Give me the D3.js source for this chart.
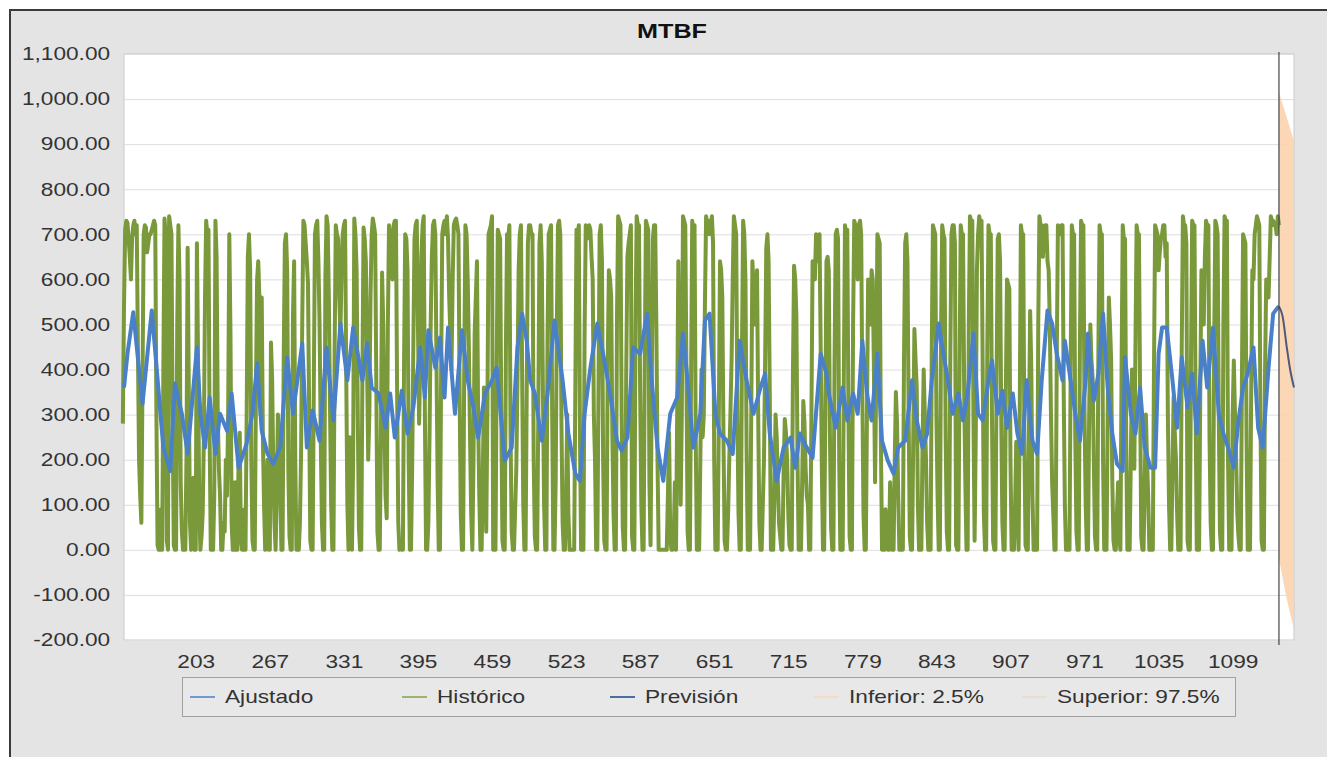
<!DOCTYPE html>
<html>
<head>
<meta charset="utf-8">
<script src="https://cdn.jsdelivr.net/npm/d3@7"></script>
<style>
  body { margin: 0; background: #fff; }
  text { font-family: "Liberation Sans", Arial, sans-serif; fill: #333; }
</style>
</head>
<body>
<div id="chart"></div>
<script>
// MTBF - historico, ajustado y prevision
var titulo = "MTBF";
var histStart = 140, histStep = 1;
var historico = [
  280,540,710,730,725,690,650,600,690,720,730,700,720,450,200,120,60,380,700,720,715,660,680,700,700,710,720,730,720,300,10,0,0,90,0,400,735,700,20,0,
  740,720,700,300,10,0,0,500,720,600,150,40,0,0,0,210,670,350,60,0,20,160,0,0,680,420,100,0,30,80,250,560,730,700,710,250,0,0,0,120,
  730,650,300,180,120,0,0,60,40,200,120,300,700,480,60,0,0,150,0,0,200,260,30,0,0,90,0,300,650,700,620,200,20,0,0,350,600,640,560,300,
  560,250,100,0,50,200,0,0,460,380,180,60,0,120,300,220,150,0,0,420,680,700,620,180,30,0,0,520,640,200,0,0,0,60,210,500,730,720,680,640,
  590,300,20,0,0,360,700,720,730,640,500,250,60,0,0,600,740,720,560,320,100,0,0,440,720,700,690,560,480,620,700,720,730,400,100,0,250,180,0,200,
  735,700,620,300,50,0,0,380,715,690,640,420,200,300,560,700,735,720,700,380,40,0,0,250,615,500,300,120,70,500,720,700,690,600,720,730,730,350,60,0,
  20,0,0,420,700,690,620,200,0,0,180,450,690,720,730,500,280,420,650,720,740,300,0,0,60,250,500,650,720,730,700,420,150,0,0,380,700,720,730,700,
  740,690,560,480,400,600,720,730,735,720,700,350,80,0,0,400,720,700,600,450,250,80,0,200,480,560,640,300,120,0,0,150,360,200,40,300,700,710,720,740,
  0,0,0,380,710,700,690,300,20,0,0,450,700,690,720,260,40,0,0,90,180,380,620,700,720,400,100,0,0,350,680,720,720,700,700,200,30,0,0,300,
  680,720,640,350,100,0,0,480,700,710,720,300,0,0,150,500,720,730,700,280,60,0,0,120,300,80,0,0,0,0,0,360,710,700,720,250,0,0,0,480,
  720,690,700,720,710,650,600,300,200,0,0,350,700,720,640,200,20,0,0,420,620,600,560,250,80,0,0,520,740,730,720,300,50,0,0,400,650,680,700,720,
  30,0,0,500,740,720,720,350,100,0,0,430,730,720,710,150,10,350,690,720,720,500,200,0,0,0,0,0,0,0,0,120,260,30,0,0,20,150,0,300,
  640,400,100,300,740,730,720,400,40,0,0,380,730,700,720,260,0,0,0,200,400,250,300,550,740,720,730,700,720,740,680,200,0,0,0,300,640,620,560,250,
  20,0,0,80,200,300,420,600,740,720,700,300,80,0,0,450,730,700,600,220,0,0,0,300,640,580,500,560,620,300,60,0,0,100,200,420,670,700,640,350,
  0,0,0,120,300,250,150,60,30,0,0,180,290,260,200,80,10,0,0,380,630,600,520,200,0,0,0,150,330,280,180,120,100,0,0,300,640,620,600,700,
  650,640,700,450,180,0,0,300,640,650,620,250,50,0,0,420,700,710,690,200,0,0,0,380,720,700,710,300,30,0,0,500,730,720,720,600,720,730,700,350,
  80,0,0,300,600,560,500,620,600,400,150,380,700,690,680,250,0,0,0,90,20,0,0,150,60,0,0,200,350,280,120,0,0,0,0,420,680,700,640,300,
  30,0,0,250,490,420,360,100,0,0,0,230,400,300,200,60,0,0,0,450,720,710,700,300,120,0,0,480,720,700,690,250,40,0,0,420,700,720,720,680,
  10,0,0,400,720,700,700,350,150,0,0,500,740,730,730,300,20,250,620,700,740,720,730,400,80,0,0,450,720,700,700,300,20,0,0,380,690,700,640,300,
  60,0,0,350,600,590,580,200,0,0,0,100,240,120,0,300,720,700,700,250,10,0,0,280,530,400,120,0,40,0,0,500,740,720,720,650,700,720,720,640,
  620,500,300,150,80,0,0,420,720,710,700,720,720,350,100,0,0,0,0,400,720,700,700,250,40,0,0,450,730,720,720,300,100,0,0,300,500,420,380,200,
  30,0,0,450,720,700,700,200,0,0,0,300,560,500,420,150,20,0,0,80,150,30,0,400,720,690,690,250,0,0,0,200,400,300,180,450,720,700,700,350,
  30,0,0,150,300,200,120,0,0,0,0,400,720,710,700,620,660,690,700,720,720,650,680,300,100,0,0,180,340,260,200,80,0,0,0,450,740,720,720,680,
  20,0,0,420,730,720,720,300,0,0,0,350,620,600,500,650,730,720,720,250,60,0,0,450,730,720,700,300,40,0,0,500,740,730,730,200,0,0,0,300,
  420,300,200,80,30,0,0,380,700,690,680,250,0,0,0,350,620,600,700,720,740,730,720,300,20,0,0,400,600,580,560,650,740,730,730,720,720,700,740,720
];
// [periodo, valor]
var ajustado = [
  [141,360],[144,435],[149,527],[157,324],[165,531],[175,227],[181,175],[185,369],[191,302],[196,213],
  [204,449],[207,302],[211,227],[215,338],[220,213],[224,302],[230,264],[234,347],[240,182],[247,236],
  [252,302],[256,413],[260,264],[265,213],[270,191],[276,227],[282,427],[287,302],[295,458],[299,227],
  [304,309],[310,242],[316,449],[322,287],[328,502],[334,376],[339,493],[341,464],[347,376],[351,458],
  [355,360],[361,347],[367,271],[371,347],[375,249],[381,353],[386,258],[391,316],[397,449],[401,338],
  [404,487],[410,404],[414,471],[418,338],[421,493],[427,302],[433,487],[438,376],[443,316],[447,249],
  [453,347],[459,376],[463,404],[468,258],[470,198],[476,227],[481,449],[485,524],[489,464],[492,376],
  [496,347],[502,242],[507,347],[513,509],[520,376],[525,258],[531,169],[535,153],[539,302],[544,404],
  [550,502],[555,435],[561,347],[567,242],[571,220],[576,249],[581,449],[587,435],[593,524],[597,376],
  [602,227],[607,153],[613,302],[619,338],[624,480],[628,376],[633,227],[639,302],[643,509],[647,524],
  [652,302],[656,258],[662,242],[667,213],[673,464],[679,376],[685,302],[691,360],[695,391],[699,258],
  [705,153],[711,227],[717,249],[721,182],[725,258],[731,227],[736,204],[743,435],[748,391],[750,347],
  [756,271],[762,360],[766,287],[771,347],[775,302],[779,464],[783,347],[787,287],[792,435],[796,242],
  [801,198],[806,169],[810,227],[816,242],[822,376],[826,287],[831,227],[835,258],[839,376],[845,502],
  [849,435],[853,376],[857,302],[862,347],[866,287],[870,347],[875,480],[879,302],[883,287],[888,376],
  [891,420],[896,302],[900,353],[904,271],[909,347],[913,258],[917,213],[921,376],[926,242],[930,213],
  [934,376],[939,531],[943,502],[947,435],[952,376],[954,464],[959,376],[963,302],[967,242],[972,376],
  [974,480],[979,331],[983,391],[987,524],[991,360],[995,258],[999,191],[1004,175],[1006,427],[1011,302],
  [1015,258],[1019,360],[1023,227],[1028,182],[1032,182],[1035,435],[1038,493],[1042,493],[1047,376],[1051,271],
  [1055,427],[1060,316],[1064,391],[1068,258],[1073,464],[1077,360],[1082,493],[1087,302],[1091,258],[1095,227],
  [1100,182],[1104,287],[1108,360],[1112,391],[1117,449],[1121,271],[1125,227],[1130,404],[1134,524],[1138,538],
  [1139,535]
];
var prevision = [[1139,540],[1142,520],[1146,445],[1149,395],[1152,360]];
var inferior = [[1139,-20],[1142,-60],[1145,-100],[1148,-135],[1151,-165],[1152,-175]];
var superior = [[1139,1015],[1142,990],[1145,965],[1148,940],[1151,915],[1152,905]];
var inicioPrevision = 1139;
var xTicks = [203, 267, 331, 395, 459, 523, 587, 651, 715, 779, 843, 907, 971, 1035, 1099];
var yTicks = [-200, -100, 0, 100, 200, 300, 400, 500, 600, 700, 800, 900, 1000, 1100];
var leyenda = [
  {name: "Ajustado", color: "#6f9bd1", x: 190},
  {name: "Histórico", color: "#9db36e", x: 402},
  {name: "Previsión", color: "#4a6f9e", x: 610},
  {name: "Inferior: 2.5%", color: "#f3dcc6", x: 814},
  {name: "Superior: 97.5%", color: "#e9ddd0", x: 1022}
];

var w = 1327, h = 757;
var margin = {top: 54, right: 33, bottom: 117, left: 124};
var width = w - margin.left - margin.right;
var height = h - margin.top - margin.bottom;
var stretch = "scale(1.26,1)";

var svg = d3.select("#chart").append("svg")
  .attr("width", w)
  .attr("height", h);

// panel
svg.append("rect").attr("x", 10).attr("y", 10).attr("width", w - 10).attr("height", h - 10)
  .attr("fill", "#e4e4e4");
svg.append("path").attr("d", "M10," + h + "V10H" + w)
  .attr("fill", "none").attr("stroke", "#3a3a3a").attr("stroke-width", 2);

svg.append("g").attr("transform", "translate(672,38)")
  .append("text").attr("text-anchor", "middle").attr("transform", stretch)
  .style("font-size", "20px").style("font-weight", "bold").style("fill", "#111").text(titulo);

var g = svg.append("g").attr("transform", "translate(" + margin.left + "," + margin.top + ")");

var x = d3.scaleLinear().domain([141, 1152]).range([0, width]);
var y = d3.scaleLinear().domain([-200, 1100]).range([height, 0]);

g.append("rect").attr("width", width).attr("height", height).attr("fill", "#fff")
  .attr("stroke", "#c9c9c9");

var fmt = d3.format(",.2f");
g.append("g")
  .call(d3.axisLeft(y).tickValues(yTicks).tickSize(-width).tickFormat(function(d){ return fmt(d).replace("\u2212", "-"); }))
  .call(function(s){
    s.select(".domain").remove();
    s.selectAll(".tick line").attr("stroke", "#dedede");
    s.selectAll(".tick text").attr("x", -11).attr("transform", stretch)
      .style("font-size", "18px").style("fill", "#333")
      .style("font-family", "Liberation Sans, Arial, sans-serif");
  });

g.append("g")
  .attr("transform", "translate(0," + height + ")")
  .call(d3.axisBottom(x).tickValues(xTicks).tickSize(0).tickFormat(d3.format("d")))
  .call(function(s){
    s.select(".domain").remove();
    s.selectAll(".tick text").attr("y", 15).attr("transform", stretch)
      .style("font-size", "18px").style("fill", "#333")
      .style("font-family", "Liberation Sans, Arial, sans-serif");
  });

// banda de confianza
var banda = superior.map(function(d, i){ return [d[0], inferior[i][1], d[1]]; });
g.append("path").datum(banda)
  .attr("fill", "#fbd3ad").attr("opacity", 0.9)
  .attr("d", d3.area().x(function(d){ return x(d[0]); }).y0(function(d){ return y(d[1]); }).y1(function(d){ return y(d[2]); }));

var hist = historico.map(function(v, i){ return [histStart + i * histStep, v]; });
var line = d3.line().x(function(d){ return x(d[0]); }).y(function(d){ return y(d[1]); });

g.append("path").datum(hist)
  .attr("fill", "none").attr("stroke", "#7a993a").attr("stroke-width", 4)
  .attr("stroke-linejoin", "round").attr("d", line);

g.append("path").datum(ajustado)
  .attr("fill", "none").attr("stroke", "#4a80c8").attr("stroke-width", 4)
  .attr("stroke-linejoin", "round").attr("d", line);

g.append("path").datum(prevision)
  .attr("fill", "none").attr("stroke", "#4d5a7c").attr("stroke-width", 2)
  .attr("d", line.curve(d3.curveMonotoneX));

g.append("line")
  .attr("x1", x(inicioPrevision)).attr("x2", x(inicioPrevision))
  .attr("y1", -2).attr("y2", height + 5)
  .attr("stroke", "#444").attr("stroke-width", 1.2);

// leyenda
var ly = 697;
svg.append("rect").attr("x", 182.5).attr("y", 677.5).attr("width", 1053).attr("height", 39)
  .attr("fill", "#e8e8e8").attr("stroke", "#a0a0a0");
var item = svg.selectAll(".leg").data(leyenda).enter().append("g").attr("class", "leg");
item.append("line")
  .attr("x1", function(d){ return d.x; }).attr("x2", function(d){ return d.x + 25; })
  .attr("y1", ly).attr("y2", ly)
  .attr("stroke", function(d){ return d.color; }).attr("stroke-width", 2);
item.append("g")
  .attr("transform", function(d){ return "translate(" + (d.x + 35) + "," + (ly + 6) + ")"; })
  .append("text").attr("transform", stretch)
  .style("font-size", "18px")
  .text(function(d){ return d.name; });
</script>
</body>
</html>
